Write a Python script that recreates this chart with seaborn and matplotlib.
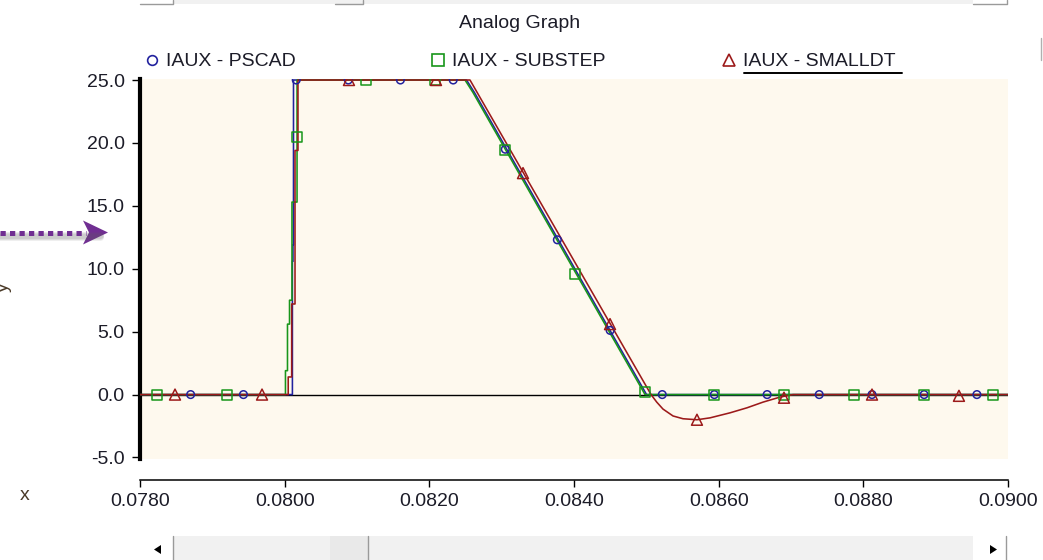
import matplotlib
matplotlib.use("Agg")
import matplotlib.pyplot as plt
from matplotlib.lines import Line2D
from matplotlib.patches import Polygon, Rectangle
import numpy as np
import pandas as pd
import seaborn as sns

# ---- data ---------------------------------------------------------------
# IAUX from the PSCAD run (time in s, current)
pscad_t = [0.07800, 0.080107, 0.080107, 0.080115, 0.080115, 0.080122, 0.080122,
           0.082514, 0.082624, 0.085003, 0.09000]
pscad_v = [0.0, 0.0, 10.6, 10.6, 11.9, 11.9, 25.0,
           25.0, 24.0, 0.0, 0.0]

# IAUX with substepping
substep_t = [0.07800, 0.080011, 0.080011, 0.080039, 0.080039, 0.080067, 0.080067,
             0.080101, 0.080101, 0.080171, 0.080171, 0.082493, 0.082604, 0.084982, 0.09000]
substep_v = [0.0, 0.0, 1.9, 1.9, 5.6, 5.6, 7.5,
             7.5, 15.3, 15.3, 25.0, 25.0, 24.0, 0.0, 0.0]

# IAUX with a small time step
smalldt_t = [0.07800, 0.080049, 0.080049, 0.080097, 0.080097, 0.080143, 0.080143,
             0.080184, 0.080184, 0.082562, 0.085065, 0.085144, 0.085230, 0.085369,
             0.085507, 0.085700, 0.085880, 0.086157, 0.086392, 0.086613, 0.086848,
             0.087028, 0.09000]
smalldt_v = [0.0, 0.0, 1.4, 1.4, 7.2, 7.2, 19.4,
             19.4, 25.0, 25.0, 0.0, -0.6, -1.15, -1.7,
             -1.92, -2.0, -1.85, -1.45, -1.05, -0.6, -0.2,
             0.0, 0.0]

# sample markers on each trace
pscad_mt = [0.07870, 0.07943, 0.08016, 0.08088, 0.08160, 0.08233, 0.08305, 0.08377,
            0.08450, 0.08522, 0.08594, 0.08667, 0.08739, 0.08812, 0.08884, 0.08957]
pscad_mv = [0.0, 0.0, 25.0, 25.0, 25.0, 25.0, 19.5, 12.3,
            5.1, 0.0, 0.0, 0.0, 0.0, 0.0, 0.0, 0.0]

substep_mt = [0.078235, 0.079203, 0.080171, 0.081124, 0.082078, 0.083046, 0.084014,
              0.084982, 0.085935, 0.086903, 0.087871, 0.088839, 0.089793]
substep_mv = [0.0, 0.0, 20.5, 25.0, 25.0, 19.4, 9.6,
              0.2, 0.0, 0.0, 0.0, 0.0, 0.0]

smalldt_mt = [0.078484, 0.079687, 0.080889, 0.082092, 0.083295, 0.084498, 0.085700,
              0.086903, 0.088120, 0.089322]
smalldt_mv = [0.0, 0.0, 25.0, 25.0, 17.6, 5.6, -2.0,
              -0.25, 0.0, -0.1]

series_names = ["IAUX - PSCAD", "IAUX - SUBSTEP", "IAUX - SMALLDT"]
x_ticks = [0.078, 0.080, 0.082, 0.084, 0.086, 0.088, 0.090]
y_ticks = [-5.0, 0.0, 5.0, 10.0, 15.0, 20.0, 25.0]

# ---- style --------------------------------------------------------------
sns.set_style("white")
plt.rcParams["font.family"] = ["Liberation Sans", "DejaVu Sans"]

W, H = 1043, 560
fig = plt.figure(figsize=(W / 100, H / 100), dpi=100)
fig.patch.set_facecolor("white")


def fx(px):
    return px / W


def fy(py):
    return 1 - py / H


ax_top, ax_bot = 78.5, 458.5
ax = fig.add_axes([fx(140), fy(ax_bot), fx(1008) - fx(140), fy(ax_top) - fy(ax_bot)])
ax.set_facecolor("#FEF9EE")

blue, green, red = "#22229E", "#18961A", "#9C1A1A"
text_col = "#1c1c28"

ax.axhline(0, color="black", lw=1.0, zorder=1)

curves = [
    (pscad_t, pscad_v, blue),
    (substep_t, substep_v, green),
    (smalldt_t, smalldt_v, red),
]
for t, v, c in curves:
    sns.lineplot(x=t, y=v, ax=ax, color=c, lw=1.15, estimator=None, sort=False, zorder=3)

markers = [
    (pscad_mt, pscad_mv, blue, "o", 30),
    (substep_mt, substep_mv, green, "s", 52),
    (smalldt_mt, smalldt_mv, red, "^", 62),
]
for t, v, c, m, s in markers:
    sns.scatterplot(x=t, y=v, ax=ax, marker=m, s=s, facecolor="none",
                    edgecolor=c, linewidth=1.1, zorder=4)

ax.set_xlim(x_ticks[0], x_ticks[-1])
ax.set_ylim(-5.08, 25.12)
ax.set_xticks(x_ticks)
ax.set_yticks(y_ticks)
ax.set_xticklabels([f"{v:.4f}" for v in x_ticks])
ax.set_yticklabels([f"{v:.1f}" for v in y_ticks])

for side in ("top", "right"):
    ax.spines[side].set_visible(False)
ax.spines["left"].set_linewidth(3.0)
ax.spines["left"].set_color("black")
ax.spines["bottom"].set_position(("outward", 15.5))
ax.spines["bottom"].set_linewidth(1.1)
ax.spines["bottom"].set_color("black")

ax.tick_params(axis="y", direction="out", length=6, width=1.0, color="black",
               pad=5, labelsize=14, labelcolor=text_col, left=True)
ax.tick_params(axis="x", direction="out", length=5, width=1.0, color="black",
               pad=4, labelsize=14, labelcolor=text_col, bottom=True)
ax.set_xlabel("")
ax.set_ylabel("")

# ---- title and legend ---------------------------------------------------
fig.text(fx(520), fy(23.5), "Analog Graph", ha="center", va="center",
         fontsize=14, color=text_col)

legend_items = [(152, blue, "o", 7), (438, green, "s", 8.5), (729, red, "^", 9)]
for (mx, c, m, ms), name in zip(legend_items, series_names):
    fig.add_artist(Line2D([fx(mx)], [fy(60)], transform=fig.transFigure, marker=m,
                          markersize=ms, markerfacecolor="none", markeredgecolor=c,
                          markeredgewidth=1.2, linestyle="none"))
    fig.text(fx(mx + 14), fy(61), name, ha="left", va="center", fontsize=14,
             color=text_col)
fig.add_artist(Line2D([fx(744), fx(902)], [fy(72.5), fy(72.5)],
                      transform=fig.transFigure, color="black", lw=1.4))

# ---- axis captions at the window edge -----------------------------------
fig.text(fx(25), fy(495), "x", ha="center", va="center", fontsize=14, color="#4a3a28")
fig.text(fx(3), fy(287), "y", ha="center", va="center", fontsize=14,
         color="#4a3a28", rotation=90)

# ---- pointer arrow ------------------------------------------------------
purple = "#702E92"
for off, a in ((5, 0.10), (4, 0.12), (3, 0.12)):
    fig.add_artist(Line2D([fx(0), fx(100)], [fy(232 + off), fy(232 + off)],
                          transform=fig.transFigure, color="#606060", lw=5,
                          alpha=a, solid_capstyle="round"))
fig.add_artist(Line2D([fx(0), fx(86)], [fy(232.5), fy(232.5)],
                      transform=fig.transFigure, color=purple, lw=3.6,
                      linestyle=(0, (1.05, 0.85)), dash_capstyle="butt"))
fig.add_artist(Polygon([(fx(83), fy(220.5)), (fx(108), fy(232.5)), (fx(83), fy(244.5)),
                        (fx(89), fy(232.5))], closed=True, transform=fig.transFigure,
                       facecolor=purple, edgecolor="none"))

# ---- scroll bars --------------------------------------------------------
edge = "#9a9a9a"
fig.add_artist(Rectangle((fx(173), fy(4)), fx(973) - fx(173), fy(0) - fy(4),
                         transform=fig.transFigure, facecolor="#f1f1f1",
                         edgecolor="none"))
for x0, x1 in ((140, 173), (335, 363), (973, 1007)):
    fig.add_artist(Line2D([fx(x0), fx(x1), fx(x1)], [fy(3.5), fy(3.5), fy(0)],
                          transform=fig.transFigure, color=edge, lw=1.0))

fig.add_artist(Rectangle((fx(173), fy(560)), fx(973) - fx(173), fy(536) - fy(560),
                         transform=fig.transFigure, facecolor="#f1f1f1",
                         edgecolor="none"))
fig.add_artist(Rectangle((fx(330), fy(560)), fx(368) - fx(330), fy(536) - fy(560),
                         transform=fig.transFigure, facecolor="#e9e9e9",
                         edgecolor="none"))
for xl in (172.5, 368, 1006):
    fig.add_artist(Line2D([fx(xl), fx(xl)], [fy(536), fy(560)],
                          transform=fig.transFigure, color=edge, lw=1.0))
fig.add_artist(Polygon([(fx(154), fy(549.5)), (fx(161), fy(545)), (fx(161), fy(554))],
                       closed=True, transform=fig.transFigure, facecolor="black",
                       edgecolor="none"))
fig.add_artist(Polygon([(fx(997), fy(549.5)), (fx(990), fy(545)), (fx(990), fy(554))],
                       closed=True, transform=fig.transFigure, facecolor="black",
                       edgecolor="none"))
fig.add_artist(Line2D([fx(1041), fx(1041)], [fy(38), fy(60)],
                      transform=fig.transFigure, color="#b0b0b0", lw=1.0))

fig.savefig("out.png", dpi=100, facecolor="white")
